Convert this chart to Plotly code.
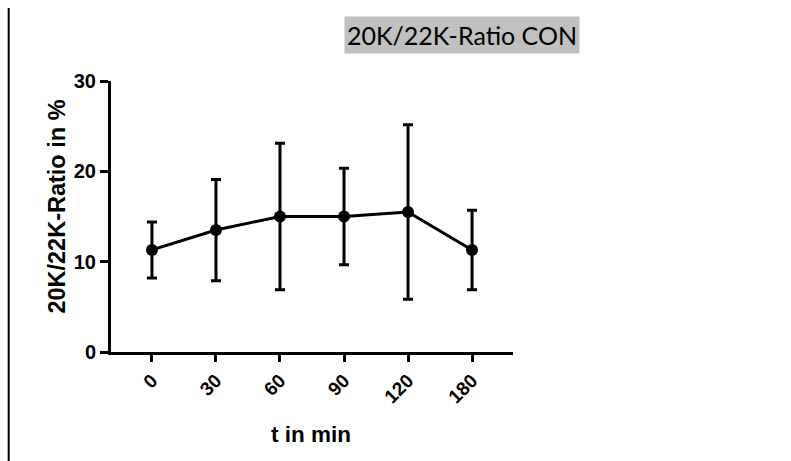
import plotly.graph_objects as go

categories = ["0", "30", "60", "90", "120", "180"]
means = [11.3, 13.5, 15.0, 15.0, 15.5, 11.3]
sds = [3.1, 5.6, 8.1, 5.35, 9.65, 4.4]
y_ticks = [0, 10, 20, 30]

title_text = "20K/22K-Ratio CON"
y_title = "20K/22K-Ratio in %"
x_title = "t in min"

AX_FONT = "Arial, 'Liberation Sans', sans-serif"

fig = go.Figure()
fig.add_trace(go.Scatter(
    x=categories, y=means,
    mode="lines+markers",
    line=dict(color="black", width=3),
    marker=dict(color="black", size=12),
    error_y=dict(type="data", array=sds, visible=True, color="black",
                 thickness=3, width=5),
    showlegend=False,
))

fig.update_layout(
    width=791, height=461,
    margin=dict(l=111, r=278, t=81, b=109),
    paper_bgcolor="white", plot_bgcolor="white",
    xaxis=dict(
        type="category", range=[-0.64, 5.64],
        tickvals=categories, ticktext=["<b>%s</b>" % c for c in categories],
        showline=True, linecolor="black", linewidth=3,
        ticks="outside", ticklen=7, tickwidth=3, tickcolor="black",
        tickangle=-45, showgrid=False, zeroline=False,
        tickfont=dict(family=AX_FONT, size=19, color="black"),
    ),
    yaxis=dict(
        range=[0, 30], tickvals=y_ticks,
        ticktext=["<b>%d</b>" % v for v in y_ticks],
        showline=True, linecolor="black", linewidth=3,
        ticks="outside", ticklen=8, tickwidth=3, tickcolor="black",
        showgrid=False, zeroline=False,
        tickfont=dict(family=AX_FONT, size=20, color="black"),
    ),
    shapes=[dict(type="line", xref="paper", yref="paper",
                 x0=-0.2545, x1=-0.2545, y0=-0.402, y1=1.269,
                 line=dict(color="black", width=2))],
    annotations=[
        dict(text=title_text, xref="paper", yref="paper", x=0.873, y=1.170,
             xanchor="center", yanchor="middle", showarrow=False,
             width=234, height=36, bgcolor="#c0c0c0", borderpad=0,
             font=dict(family="Lato, sans-serif", size=25, color="black")),
        dict(text="<b>%s</b>" % y_title, xref="paper", yref="paper", x=-0.134, y=0.537,
             xanchor="center", yanchor="middle", showarrow=False, textangle=-90,
             font=dict(family=AX_FONT, size=23.5, color="black")),
        dict(text="<b>%s</b>" % x_title, xref="paper", yref="paper", x=0.4975, y=-0.3026,
             xanchor="center", yanchor="middle", showarrow=False,
             font=dict(family=AX_FONT, size=22.5, color="black")),
    ],
)

fig.write_html("out.html")
